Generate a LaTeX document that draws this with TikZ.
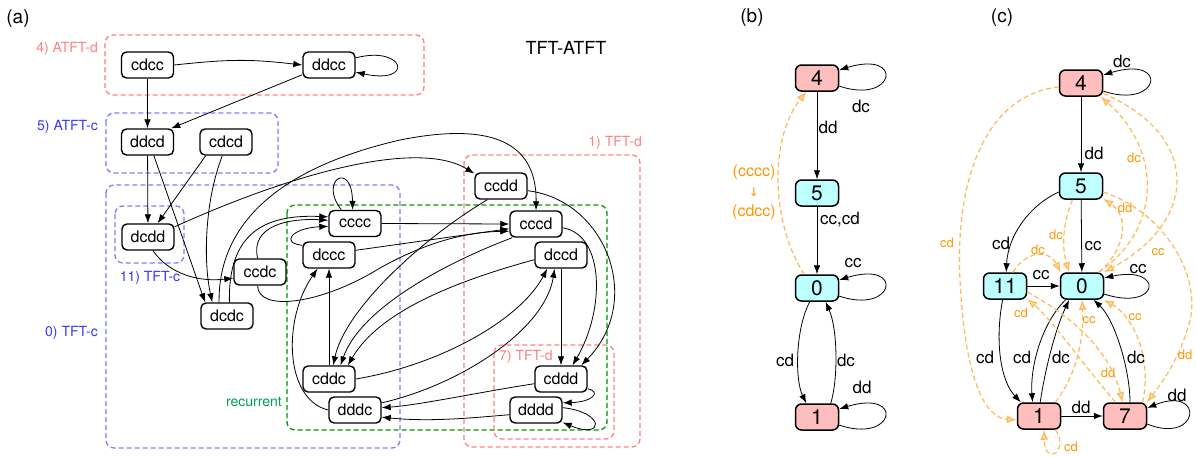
\documentclass[tikz,border=0pt]{standalone}
\usepackage{fontspec}
\setmainfont{TeX Gyre Heros}
\newfontfamily\dvfont{DejaVu Sans}
\usetikzlibrary{arrows.meta}
\definecolor{gred}{RGB}{255,128,128}
\definecolor{gblue}{RGB}{125,125,255}
\definecolor{tblue}{RGB}{55,55,255}
\definecolor{ggreen}{RGB}{0,150,0}
\definecolor{tgreen}{RGB}{0,160,80}
\definecolor{npink}{RGB}{255,190,190}
\definecolor{ncyan}{RGB}{190,255,255}
\definecolor{oline}{RGB}{255,185,90}
\definecolor{otext}{RGB}{255,150,0}
\begin{document}
\begin{tikzpicture}[x=1pt,y=-1pt,
 anode/.style={draw,line width=1.4pt,rounded corners=5pt,minimum width=52pt,minimum height=26pt,inner sep=0pt,fill=white,font=\fontsize{16}{16}\selectfont},
 cnode/.style={draw,line width=1.5pt,rounded corners=6pt,minimum width=43pt,minimum height=26pt,inner sep=0pt,font=\fontsize{21}{21}\selectfont},
 cred/.style={cnode,fill=npink},
 ccyan/.style={cnode,fill=ncyan},
 ar/.style={-{Latex[length=9pt,width=6.5pt]},line width=0.8pt},
 oar/.style={-{Latex[length=10pt,width=8pt,fill=oline!60,color=oline]},draw=oline,line width=1.2pt,dash pattern=on 5pt off 3pt},
 grp/.style={line width=1.3pt,dash pattern=on 5pt off 3pt,rounded corners=8pt},
 gl/.style={font=\fontsize{14}{14}\selectfont,inner sep=0pt},
 el/.style={font=\fontsize{17}{17}\selectfont,inner sep=0pt},
 ol/.style={font=\fontsize{13}{13}\selectfont,text=otext,inner sep=0pt},
 pl/.style={font=\fontsize{19}{19}\selectfont,inner sep=0pt},
]
\useasboundingbox (0,0) rectangle (1196,456);
\fill[white] (0,0) rectangle (1196,456);

% ---------------- panel (a): groups
\draw[grp,gred] (105,35) rectangle (424,95);
\draw[grp,gblue] (106,113) rectangle (278,173);
\draw[grp,gblue] (106,185) rectangle (400,448);
\draw[grp,gblue] (115,206) rectangle (184,263);
\draw[grp,ggreen] (287,205) rectangle (607,430);
\draw[grp,gred] (464,155) rectangle (640,447);
\draw[grp,gred] (494,345) rectangle (614,439);

\node[gl,text=gred,anchor=east] (l4) at (98,49) {4) ATFT-d};
\node[gl,text=tblue,anchor=east] (l5) at (98,127) {5) ATFT-c};
\node[gl,text=tblue,anchor=east] (l0) at (98,333) {0) TFT-c};
\node[gl,text=tblue] (l11) at (150,278) {11) TFT-c};
\node[gl,text=tgreen,anchor=east] (lrec) at (282,402) {recurrent};
\node[gl,text=gred,anchor=east] (l1) at (642,143) {1) TFT-d};
\node[gl,text=gred,anchor=west] (l7) at (499,357) {7) TFT-d};
\node[font=\fontsize{18}{18}\selectfont,inner sep=0pt] (ttl) at (566,48) {TFT-ATFT};
\node[pl] (pa) at (18,19) {(a)};
\node[pl] (pb) at (752,18) {(b)};
\node[pl] (pc) at (1002,18) {(c)};

% nodes (a)
\node[anode] (cdcc) at (147.5,65) {cdcc};
\node[anode] (ddcc) at (329,65) {ddcc};
\node[anode] (ddcd) at (147.5,142) {ddcd};
\node[anode] (cdcd) at (226,142) {cdcd};
\node[anode] (dcdd) at (148,237) {dcdd};
\node[anode] (ccdc) at (260,272) {ccdc};
\node[anode] (dcdc) at (227,316) {dcdc};
\node[anode] (cccc) at (355,223.5) {cccc};
\node[anode] (dccc) at (329,255) {dccc};
\node[anode] (cddc) at (329,379) {cddc};
\node[anode] (dddc) at (355,410) {dddc};
\node[anode] (ccdd) at (501,186) {ccdd};
\node[anode] (cccd) at (536,224) {cccd};
\node[anode] (dccd) at (561,255) {dccd};
\node[anode] (cddd) at (561,379) {cddd};
\node[anode] (dddd) at (536,410) {dddd};

% edges (a)
\draw[ar] (cdcc.east) .. controls (230,59) and (250,59) .. (ddcc.west);
\draw[ar] (ddcc.15) .. controls (405,45) and (415,85) .. (ddcc.-15);
\draw[ar] (cdcc) -- (ddcd);
\draw[ar] (ddcc.200) -- (ddcd.30);
\draw[ar] (ddcd) -- (dcdd);
\draw[ar] (cdcd.214) -- (dcdd.55);
\draw[ar] (ddcd.-65) -- (dcdc.148);
\draw[ar] (cdcd.-105) .. controls (205,200) and (203,260) .. (dcdc.137);
\draw[ar] (dcdd.21) .. controls (300,170) and (420,140) .. (ccdd.155);
\draw[ar] (dcdc.120) .. controls (218,230) and (270,170) .. (400,140) .. controls (480,124) and (537,135) .. (cccd.north);
\draw[ar] (dcdc.80) .. controls (228,235) and (262,214) .. (cccc.166);
\draw[ar] (ccdc.100) .. controls (250,225) and (290,218) .. (cccc.173);
\draw[ar] (dccc.160) .. controls (280,243) and (292,228) .. (cccc.186);
\draw[ar] (cccc.135) .. controls (318,180) and (352,160) .. (cccc.100);
\draw[ar] (cccc.east) -- (cccd.west);
\draw[ar] (dccc.10) -- (cccd.190);
\draw[ar] (ccdc.-100) .. controls (258,312) and (320,305) .. (380,268) .. controls (430,240) and (470,232) .. (cccd.195);
\draw[ar] (cddc) -- (dccc);
\draw[ar] (dddc.west) .. controls (285,400) and (282,320) .. (dccc.-130);
\draw[ar] (ccdd.-135) .. controls (420,240) and (345,310) .. (cddc.73);
\draw[ar] (cccd.-150) .. controls (440,265) and (360,310) .. (cddc.50);
\draw[ar] (dccd.-170) .. controls (460,280) and (380,310) .. (cddc.36);
\draw[ar] (cddc.east) .. controls (440,365) and (520,320) .. (dccd.-135);
\draw[ar] (dddc.15) .. controls (460,385) and (545,330) .. (dccd.-115);
\draw[ar] (dccd) -- (cddd);
\draw[ar] (cccd.-8) .. controls (605,235) and (605,310) .. (cddd.50);
\draw[ar] (ccdd.-10) .. controls (605,200) and (645,300) .. (cddd.34);
\draw[ar] (cddd.-20) .. controls (602,392) and (592,402) .. (dddd.15);
\draw[ar] (dddd.5) .. controls (605,412) and (605,440) .. (dddd.-25);
\draw[ar] (cddd.-170) .. controls (480,392) and (420,405) .. (dddc.5);
\draw[ar] (dddd.-170) .. controls (470,418) and (430,422) .. (dddc.-15);
\draw[ar] (dcdd.-70) .. controls (170,275) and (200,282) .. (ccdc.-167);

% ---------------- panel (b)
\node[cred] (b4) at (817,78) {4};
\node[ccyan] (b5) at (817,193) {5};
\node[ccyan] (b0) at (817,288) {0};
\node[cred] (b1) at (817,417) {1};
\draw[ar] (b4.-20) .. controls (895,105) and (905,50) .. (b4.20);
\draw[ar] (b4) -- (b5);
\draw[ar] (b5) -- (b0);
\draw[ar] (b0.-20) .. controls (895,315) and (905,260) .. (b0.20);
\draw[ar] (b0.-118) .. controls (795,330) and (795,380) .. (b1.128);
\draw[ar] (b1.45) .. controls (838,380) and (838,330) .. (b0.-58);
\draw[ar] (b1.-20) .. controls (895,444) and (905,389) .. (b1.20);
\draw[oar] (b0.133) .. controls (772,225) and (768,140) .. (b4.-128);
\node[el] (bl1) at (861,106) {dc};
\node[el] (bl2) at (828,127) {dd};
\node[el] (bl3) at (840,220) {cc,cd};
\node[el] (bl4) at (853,263) {cc};
\node[el] (bl5) at (785,360) {cd};
\node[el] (bl6) at (846,360) {dc};
\node[el] (bl7) at (862,387) {dd};
\node[font=\fontsize{16}{20}\selectfont,text=otext,align=center,inner sep=0pt] (bl8) at (754,192) {(cccc)\\{\dvfont\fontsize{12}{20}\selectfont ↓}\\(cdcc)};

% ---------------- panel (c)
\node[cred] (c4) at (1081,83) {4};
\node[ccyan] (c5) at (1081,186) {5};
\node[ccyan] (c0) at (1082,286) {0};
\node[ccyan] (c11) at (1005,286) {11};
\node[cred] (c1) at (1039,416) {1};
\node[cred] (c7) at (1125,416) {7};

\draw[ar] (c4.-20) .. controls (1160,110) and (1170,55) .. (c4.20);
\draw[ar] (c4) -- (c5);
\draw[ar] (c5.-165) .. controls (1030,205) and (1008,235) .. (c11.85);
\draw[ar] (c5) -- (c0);
\draw[ar] (c11) -- (c0);
\draw[ar] (c0.-20) .. controls (1160,312) and (1165,265) .. (c0.20);
\draw[ar] (c11.-100) .. controls (995,340) and (1000,380) .. (c1.143);
\draw[ar] (c0.-140) .. controls (1040,325) and (1030,370) .. (c1.115);
\draw[ar] (c1.85) .. controls (1045,370) and (1055,330) .. (c0.-133);
\draw[ar] (c7.70) .. controls (1130,370) and (1115,320) .. (c0.-50);
\draw[ar] (c1) -- (c7);
\draw[ar] (c7.-20) .. controls (1200,445) and (1205,385) .. (c7.20);

\draw[oar] (c4.-170) .. controls (985,95) and (955,180) .. (960,280) .. controls (965,380) and (985,418) .. (c1.-170);
\draw[oar] (c4.-25) .. controls (1200,135) and (1200,220) .. (c0.32);
\draw[oar] (c0.40) .. controls (1162,230) and (1162,150) .. (c4.-35);
\draw[oar] (c0.38) .. controls (1128,245) and (1128,215) .. (c5.-30);
\draw[oar] (c5.-15) .. controls (1170,215) and (1200,280) .. (1190,320) .. controls (1180,360) and (1160,385) .. (c7.32);
\draw[oar] (c5.-122) .. controls (1062,225) and (1062,248) .. (c0.133);
\draw[oar] (c11.60) .. controls (1025,252) and (1048,248) .. (c0.147);
\draw[oar] (c11.-15) .. controls (1070,315) and (1110,350) .. (c7.100);
\draw[oar] (c7.125) .. controls (1080,360) and (1050,318) .. (c11.-30);
\draw[oar] (c1.40) .. controls (1080,370) and (1084,330) .. (c0.-90);
\draw[oar] (c7.38) .. controls (1152,360) and (1135,318) .. (c0.-32);
\draw[oar] (c1.-40) .. controls (1070,450) and (1045,468) .. (c1.-70);

\node[el] (cl1) at (1122,61) {dc};
\node[el] (cl2) at (1094,153) {dd};
\node[el] (cl3) at (1001,243) {cd};
\node[el] (cl4) at (1093,246) {cc};
\node[el] (cl5) at (1041,275) {cc};
\node[el] (cl6) at (1138,269) {cc};
\node[el] (cl7) at (985,357) {cd};
\node[el] (cl8) at (1022,357) {cd};
\node[el] (cl9) at (1061,357) {dc};
\node[el] (cl10) at (1136,357) {dc};
\node[el] (cl11) at (1081,407) {dd};
\node[el] (cl12) at (1177,395) {dd};
\node[ol] (co1) at (947,243) {cd};
\node[ol] (co2) at (1134,158) {dc};
\node[ol] (co3) at (1158,252) {cc};
\node[ol] (co4) at (1125,208) {dd};
\node[ol] (co5) at (1185,355) {dd};
\node[ol] (co6) at (1056,235) {dc};
\node[ol] (co7) at (1038,250) {dc};
\node[ol] (co8) at (1108,373) {dd};
\node[ol] (co9) at (1021,313) {cd};
\node[ol] (co10) at (1089,320) {cc};
\node[ol] (co11) at (1135,317) {cc};
\node[ol] (co12) at (1071,447) {cd};
\end{tikzpicture}
\end{document}
